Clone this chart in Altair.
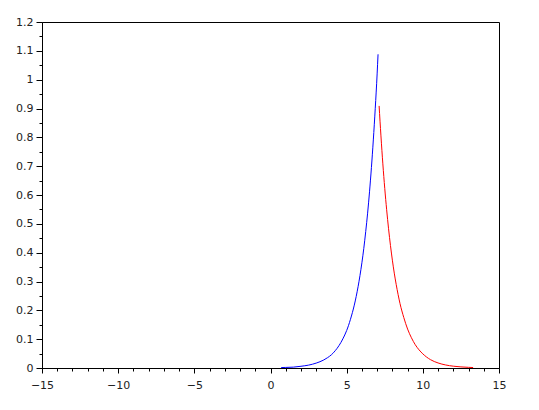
import altair as alt
import pandas as pd

# Blue branch (left side, rising)
blue_x = [0.7, 1.0, 1.5, 2.0, 2.5, 3.0, 3.5, 3.75, 4.0, 4.25, 4.5, 4.75, 5.0, 5.125,
          5.25, 5.375, 5.5, 5.625, 5.75, 5.875, 6.0, 6.125, 6.25, 6.375, 6.5,
          6.625, 6.75, 6.875, 7.0, 7.06]
blue_y = [0.0015, 0.002, 0.003, 0.006, 0.010, 0.017, 0.028, 0.036, 0.046, 0.060,
          0.078, 0.101, 0.130, 0.148, 0.169, 0.192, 0.218, 0.248, 0.282, 0.321,
          0.365, 0.415, 0.473, 0.537, 0.611, 0.695, 0.791, 0.899, 1.02, 1.088]

# Red branch (right side, decaying)
red_x = [7.13, 7.25, 7.375, 7.5, 7.625, 7.75, 7.875, 8.0, 8.125, 8.25, 8.375, 8.5,
         8.75, 9.0, 9.25, 9.5, 9.75, 10.0, 10.5, 11.0, 11.5, 12.0, 12.5, 13.0, 13.3]
red_y = [0.909, 0.805, 0.708, 0.623, 0.549, 0.483, 0.425, 0.374, 0.329, 0.290,
         0.255, 0.224, 0.175, 0.135, 0.105, 0.081, 0.063, 0.049, 0.029, 0.0175,
         0.0105, 0.0063, 0.0038, 0.0023, 0.0016]

x_ticks = list(range(-15, 16))
y_ticks = [round(i * 0.05, 2) for i in range(0, 25)]

rows = []
for i, (x, y) in enumerate(zip(blue_x, blue_y)):
    rows.append({"x": x, "y": y, "s": "blue", "i": i})
for i, (x, y) in enumerate(zip(red_x, red_y)):
    rows.append({"x": x, "y": y, "s": "red", "i": i})
df = pd.DataFrame(rows)

font = "DejaVu Sans"

chart = alt.Chart(df).mark_line(strokeWidth=1, interpolate="monotone").encode(
    x=alt.X("x:Q",
            scale=alt.Scale(domain=[-15, 15], nice=False, zero=False),
            axis=alt.Axis(
                values=x_ticks,
                labelExpr="datum.value % 5 === 0 ? datum.label : ''",
                tickSize=alt.condition("datum.value % 5 === 0", alt.value(5), alt.value(3)),
                labelOverlap=False, labelFlush=False, grid=False, title=None,
                domainColor="black", tickColor="black", labelColor="#222",
                labelFont=font, labelFontSize=11, labelPadding=6, format="d")),
    y=alt.Y("y:Q",
            scale=alt.Scale(domain=[0, 1.2], nice=False),
            axis=alt.Axis(
                values=y_ticks,
                labelExpr="round(datum.value*100) % 10 === 0 ? format(datum.value, '~g') : ''",
                tickSize=alt.condition("round(datum.value*100) % 10 === 0", alt.value(6), alt.value(3)),
                labelOverlap=False, labelFlush=False, grid=False, title=None,
                domainColor="black", tickColor="black", labelColor="#222",
                labelFont=font, labelFontSize=11, labelPadding=3)),
    color=alt.Color("s:N", scale=alt.Scale(domain=["blue", "red"],
                                           range=["#0000ff", "#ff0000"]), legend=None),
    order="i:Q",
).properties(
    width=457, height=346,
    autosize="none",
    padding={"left": 34, "top": 14, "right": 32, "bottom": 40},
).configure_view(stroke="black", strokeWidth=1)

chart.save("out.html", embed_options={"renderer": "svg", "actions": False})
